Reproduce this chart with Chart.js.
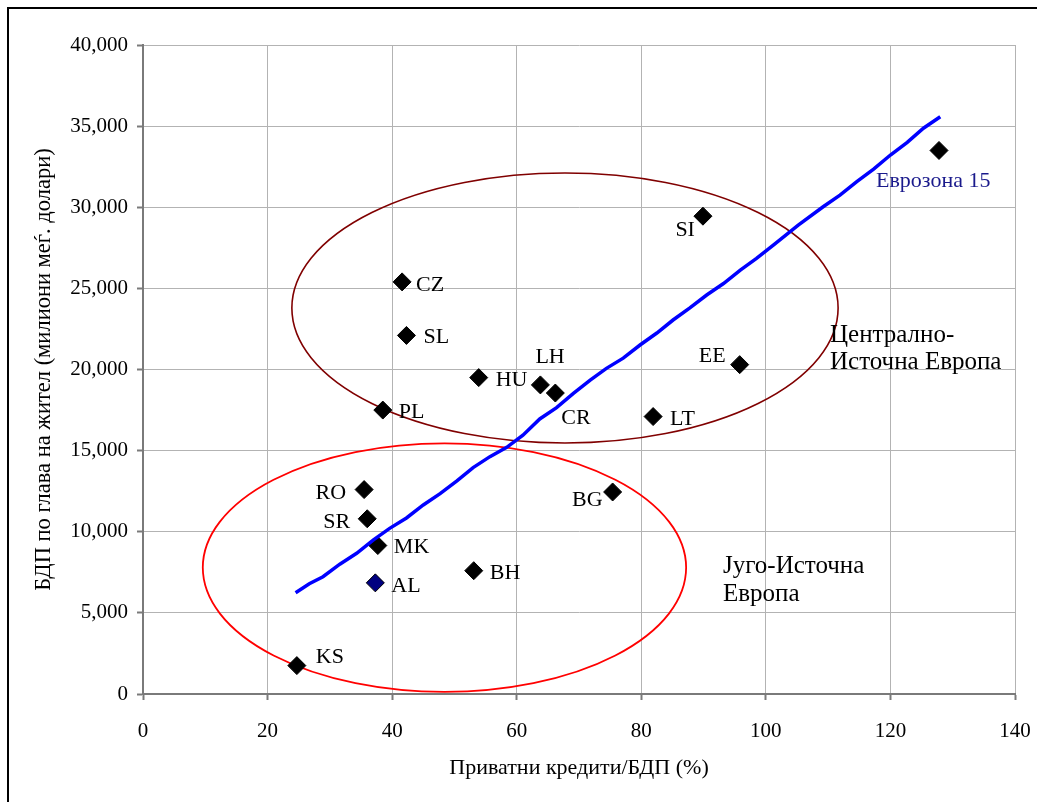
<!DOCTYPE html>
<html>
<head>
<meta charset="utf-8">
<script src="https://cdn.jsdelivr.net/npm/chart.js@4/dist/chart.umd.min.js"></script>
<style>
  html, body { margin: 0; padding: 0; background: #ffffff; }
  canvas { display: block; }
</style>
</head>
<body>
<canvas id="chart" width="1037" height="802"></canvas>
<script>
// Countries: private credit / GDP (%) against GDP per capita
const countryCodes = ['Еврозона 15', 'SI', 'CZ', 'SL', 'HU', 'LH', 'CR', 'PL', 'EE', 'LT',
                      'RO', 'SR', 'MK', 'AL', 'BH', 'BG', 'KS'];
const creditToGdp  = [127.8, 89.9, 41.6, 42.3, 53.9, 63.8, 66.2, 38.5, 95.8, 81.9,
                      35.5, 36.0, 37.7, 37.3, 53.1, 75.4, 24.7];
const gdpPerCapita = [33500, 29450, 25400, 22100, 19500, 19050, 18550, 17500, 20300, 17100,
                      12600, 10800, 9150, 6850, 7600, 12450, 1750];

// Fitted trend line, traced along its course
const trendX = [24.5, 26.7, 28.9, 31.6, 34.3, 37.0, 39.6, 42.3, 45.0, 47.7, 50.4, 53.0, 55.7,
                58.4, 61.0, 63.7, 66.4, 69.1, 71.8, 74.4, 77.1, 79.8, 82.5, 85.1, 87.8,
                90.5, 93.2, 95.9, 98.5, 101.2, 105.2, 109.2, 111.9, 114.6, 117.3, 120.0,
                122.7, 125.3, 128.0];
const trendY = [6240, 6800, 7230, 8000, 8670, 9500, 10210, 10850, 11650, 12350, 13130, 13950, 14630,
                15200, 15950, 16950, 17650, 18530, 19350, 20070, 20700, 21510, 22250, 23050, 23800,
                24590, 25300, 26130, 26850, 27670, 28900, 30030, 30750, 31580, 32350, 33220,
                34000, 34870, 35580];

// Regional groupings (ellipse extents in axis units)
const regionNames  = [['Централно-', 'Источна Европа'], ['Југо-Источна', 'Европа']];
const regionXRange = [[23.9, 111.6], [9.6, 87.2]];
const regionYRange = [[15470, 32110], [130, 15450]];

// Axis tick values
const xTicks = [0, 20, 40, 60, 80, 100, 120, 140];
const yTicks = [0, 5000, 10000, 15000, 20000, 25000, 30000, 35000, 40000];

const SERIF = '"Liberation Serif", "Times New Roman", serif';

// Label placement next to each marker: [dx, dy (baseline), align]
const labelPlacement = {
  'Еврозона 15': [-63, 37, 'left'],
  'SI': [-8, 20, 'right'],
  'CZ': [14, 9, 'left'],
  'SL': [17, 8, 'left'],
  'HU': [17, 8, 'left'],
  'LH': [-5, -22, 'left'],
  'CR': [6, 31, 'left'],
  'PL': [16, 8, 'left'],
  'EE': [-14, -3, 'right'],
  'LT': [17, 8, 'left'],
  'RO': [-18, 9, 'right'],
  'SR': [-17, 9, 'right'],
  'MK': [16, 7, 'left'],
  'AL': [16, 9, 'left'],
  'BH': [16, 8, 'left'],
  'BG': [-10, 14, 'right'],
  'KS': [19, -3, 'left']
};
const regionStyle = [
  { color: '#800000', width: 1.6, textX: 830, baselines: [342, 369] },
  { color: '#ff0000', width: 1.8, textX: 723, baselines: [573, 601] }
];

const frameAndRegions = {
  id: 'frameAndRegions',
  beforeDraw(chart) {
    const ctx = chart.ctx;
    ctx.save();
    ctx.fillStyle = '#ffffff';
    ctx.fillRect(0, 0, chart.width, chart.height);
    ctx.strokeStyle = '#000000';
    ctx.lineWidth = 2;
    ctx.strokeRect(8, 8, chart.width + 40, chart.height + 40);
    ctx.restore();
  },
  beforeDatasetsDraw(chart) {
    const ctx = chart.ctx;
    const xs = chart.scales.x, ys = chart.scales.y;
    ctx.save();
    regionXRange.forEach((xr, i) => {
      const x0 = xs.getPixelForValue(xr[0]), x1 = xs.getPixelForValue(xr[1]);
      const y0 = ys.getPixelForValue(regionYRange[i][0]), y1 = ys.getPixelForValue(regionYRange[i][1]);
      ctx.beginPath();
      ctx.ellipse((x0 + x1) / 2, (y0 + y1) / 2, Math.abs(x1 - x0) / 2, Math.abs(y1 - y0) / 2, 0, 0, Math.PI * 2);
      ctx.strokeStyle = regionStyle[i].color;
      ctx.lineWidth = regionStyle[i].width;
      ctx.stroke();
    });
    ctx.restore();
  },
  afterDraw(chart) {
    const ctx = chart.ctx;
    ctx.save();
    ctx.font = '25px ' + SERIF;
    ctx.textBaseline = 'alphabetic';
    ctx.textAlign = 'left';
    ctx.fillStyle = '#000000';
    regionNames.forEach((lines, i) => {
      lines.forEach((t, j) => ctx.fillText(t, regionStyle[i].textX, regionStyle[i].baselines[j]));
    });
    // point labels
    const meta = chart.getDatasetMeta(1);
    meta.data.forEach((pt, i) => {
      const name = countryCodes[i];
      const [dx, dy, align] = labelPlacement[name];
      ctx.textAlign = align;
      ctx.fillStyle = i === 0 ? '#1a1a8c' : '#000000';
      ctx.font = '22px ' + SERIF;
      ctx.fillText(name, pt.x + dx, pt.y + dy);
    });
    ctx.restore();
  }
};

new Chart(document.getElementById('chart'), {
  type: 'scatter',
  data: {
    datasets: [
      {
        label: 'trend',
        data: trendX.map((x, i) => ({ x, y: trendY[i] })),
        showLine: true,
        borderColor: '#0000ff',
        borderWidth: 3.5,
        pointRadius: 0,
        tension: 0,
        order: 0
      },
      {
        label: 'countries',
        data: creditToGdp.map((x, i) => ({ x, y: gdpPerCapita[i] })),
        pointStyle: 'rectRot',
        pointRadius: 9,
        pointBorderWidth: 1,
        pointBorderColor: '#000000',
        pointBackgroundColor: (c) => countryCodes[c.dataIndex] === 'AL' ? '#000080' : '#000000',
        showLine: false,
        order: 1
      }
    ]
  },
  options: {
    responsive: false,
    animation: false,
    devicePixelRatio: 1,
    layout: { padding: { top: 45, right: 22, left: 0, bottom: 0 } },
    plugins: { legend: { display: false }, tooltip: { enabled: false } },
    scales: {
      x: {
        type: 'linear',
        min: xTicks[0], max: xTicks[xTicks.length - 1],
        afterBuildTicks: (s) => { s.ticks = xTicks.map(v => ({ value: v })); },
        afterFit: (s) => { s.height = 108; s.paddingLeft = 0; s.paddingRight = 0; },
        ticks: { color: '#000000', font: { family: SERIF, size: 21 }, padding: 19, maxRotation: 0 },
        grid: { color: '#b3b3b3', lineWidth: 1, tickLength: 6, tickColor: '#7a7a7a', tickWidth: 2 },
        border: { color: '#7a7a7a', width: 2 },
        title: {
          display: true,
          text: 'Приватни кредити/БДП (%)',
          color: '#000000',
          font: { family: SERIF, size: 22 },
          padding: { top: 0, bottom: 21 }
        }
      },
      y: {
        type: 'linear',
        min: yTicks[0], max: yTicks[yTicks.length - 1],
        afterBuildTicks: (s) => { s.ticks = yTicks.map(v => ({ value: v })); },
        afterFit: (s) => { s.width = 143; s.paddingTop = 0; s.paddingBottom = 0; },
        ticks: {
          color: '#000000', font: { family: SERIF, size: 21 }, padding: 9,
          callback: (v) => v.toLocaleString('en-US')
        },
        grid: { color: '#b3b3b3', lineWidth: 1, tickLength: 6, tickColor: '#7a7a7a', tickWidth: 2 },
        border: { color: '#7a7a7a', width: 2 },
        title: {
          display: true,
          text: 'БДП по глава на жител (милиони меѓ. долари)',
          color: '#000000',
          font: { family: SERIF, size: 22.5 },
          padding: { top: 31, bottom: 0 }
        }
      }
    }
  },
  plugins: [frameAndRegions]
});
</script>
</body>
</html>
